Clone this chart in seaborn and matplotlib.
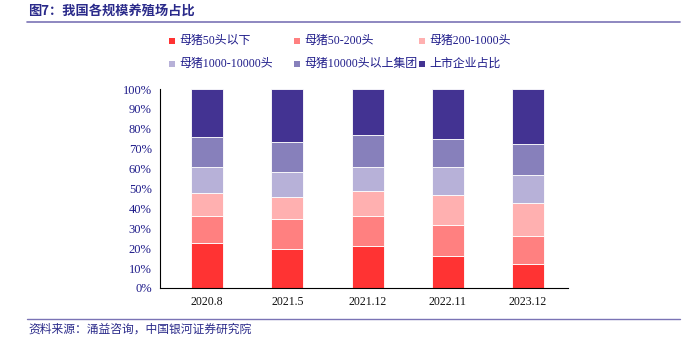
import numpy as np
import pandas as pd
import matplotlib
matplotlib.use("Agg")
import matplotlib.pyplot as plt
import seaborn as sns
from matplotlib.patches import Rectangle
from matplotlib.lines import Line2D

sns.set_style("white")
plt.rcParams['font.family'] = ['Liberation Serif', 'Noto Sans CJK SC']

periods = ["2020.8", "2021.5", "2021.12", "2022.11", "2023.12"]
series_names = ["母猪50头以下", "母猪50-200头", "母猪200-1000头",
                "母猪1000-10000头", "母猪10000头以上集团", "上市企业占比"]
s1 = [22.5, 19.8, 21.0, 16.0, 11.9]
s2 = [13.6, 14.7, 15.1, 15.6, 14.2]
s3 = [11.8, 11.2, 12.5, 15.3, 16.8]
s4 = [12.9, 12.5, 12.4, 14.1, 14.1]
s5 = [15.3, 15.1, 15.8, 13.8, 15.3]
s6 = [23.9, 26.7, 23.2, 25.2, 27.7]
yticks = [0, 10, 20, 30, 40, 50, 60, 70, 80, 90, 100]

colors = ["#FF3333", "#FF8080", "#FFB0B0", "#B7B1D8", "#8780BB", "#433392"]
navy = "#1F1C8A"

W, H = 684, 344
fig = plt.figure(figsize=(6.84, 3.44), dpi=100)
ax = fig.add_axes([160/W, 1-288/H, (568-160)/W, (288-89)/H])

bottom = np.zeros(len(periods))
for name, vals, c in zip(series_names, [s1, s2, s3, s4, s5, s6], colors):
    df = pd.DataFrame({"period": periods, "value": vals})
    sns.barplot(data=df, x="period", y="value", order=periods, color=c,
                bottom=bottom.copy(), width=0.4, edgecolor="white",
                linewidth=0.6, saturation=1, ax=ax, errorbar=None)
    bottom += np.array(vals)

ax.set_xlim(-0.59, 4.5)
ax.set_ylim(0, 100)
ax.set_yticks(yticks)
ax.set_yticklabels([f"{v}%" for v in yticks], color=navy, fontsize=9)
ax.set_xticks(range(len(periods)))
ax.set_xticklabels(periods, fontsize=8.5, color="#111111")
ax.tick_params(axis="x", length=0, pad=6)
ax.set_xticks([0.5, 1.5, 2.5, 3.5, 4.5], minor=True)
ax.tick_params(axis="x", which="minor", length=3, direction="out", color="black", width=0.8)
ax.tick_params(axis="y", length=3, direction="out", color="black", width=0.8, pad=3)
ax.set_xlabel("")
ax.set_ylabel("")
for sp in ["top", "right"]:
    ax.spines[sp].set_visible(False)
for sp in ["left", "bottom"]:
    ax.spines[sp].set_color("black")
    ax.spines[sp].set_linewidth(0.8)

# legend (row-wise, manually placed)
leg_x = [169, 294, 419]
leg_y = [41, 64]
for i, (name, c) in enumerate(zip(series_names, colors)):
    r, col = divmod(i, 3)
    x0, y0 = leg_x[col], leg_y[r]
    fig.add_artist(Rectangle((x0/W, 1-(y0+3)/H), 6/W, 6/H, facecolor=c,
                             edgecolor="none", transform=fig.transFigure))
    fig.text((x0+10)/W, 1-y0/H, name, fontsize=8.6, color=navy, va="center", ha="left")

# title and lines
fig.text(28/W, 1-11/H, "图7：我国各规模养殖场占比", fontsize=9.5, fontweight="bold",
         color="#2A2A8A", va="center", ha="left",
         family=["Noto Sans CJK SC", "DejaVu Sans"])
fig.add_artist(Line2D([27/W, 680/W], [1-22/H, 1-22/H], color="#7A73B5", lw=1.2))
fig.add_artist(Line2D([27/W, 680/W], [1-319/H, 1-319/H], color="#7A73B5", lw=1.0))
fig.text(28/W, 1-329/H, "资料来源：涌益咨询，中国银河证券研究院", fontsize=8.5,
         color="#2A2A8A", va="center", ha="left", style="italic",
         family=["Noto Sans CJK SC", "DejaVu Sans"])

fig.savefig("out.png", dpi=100)
